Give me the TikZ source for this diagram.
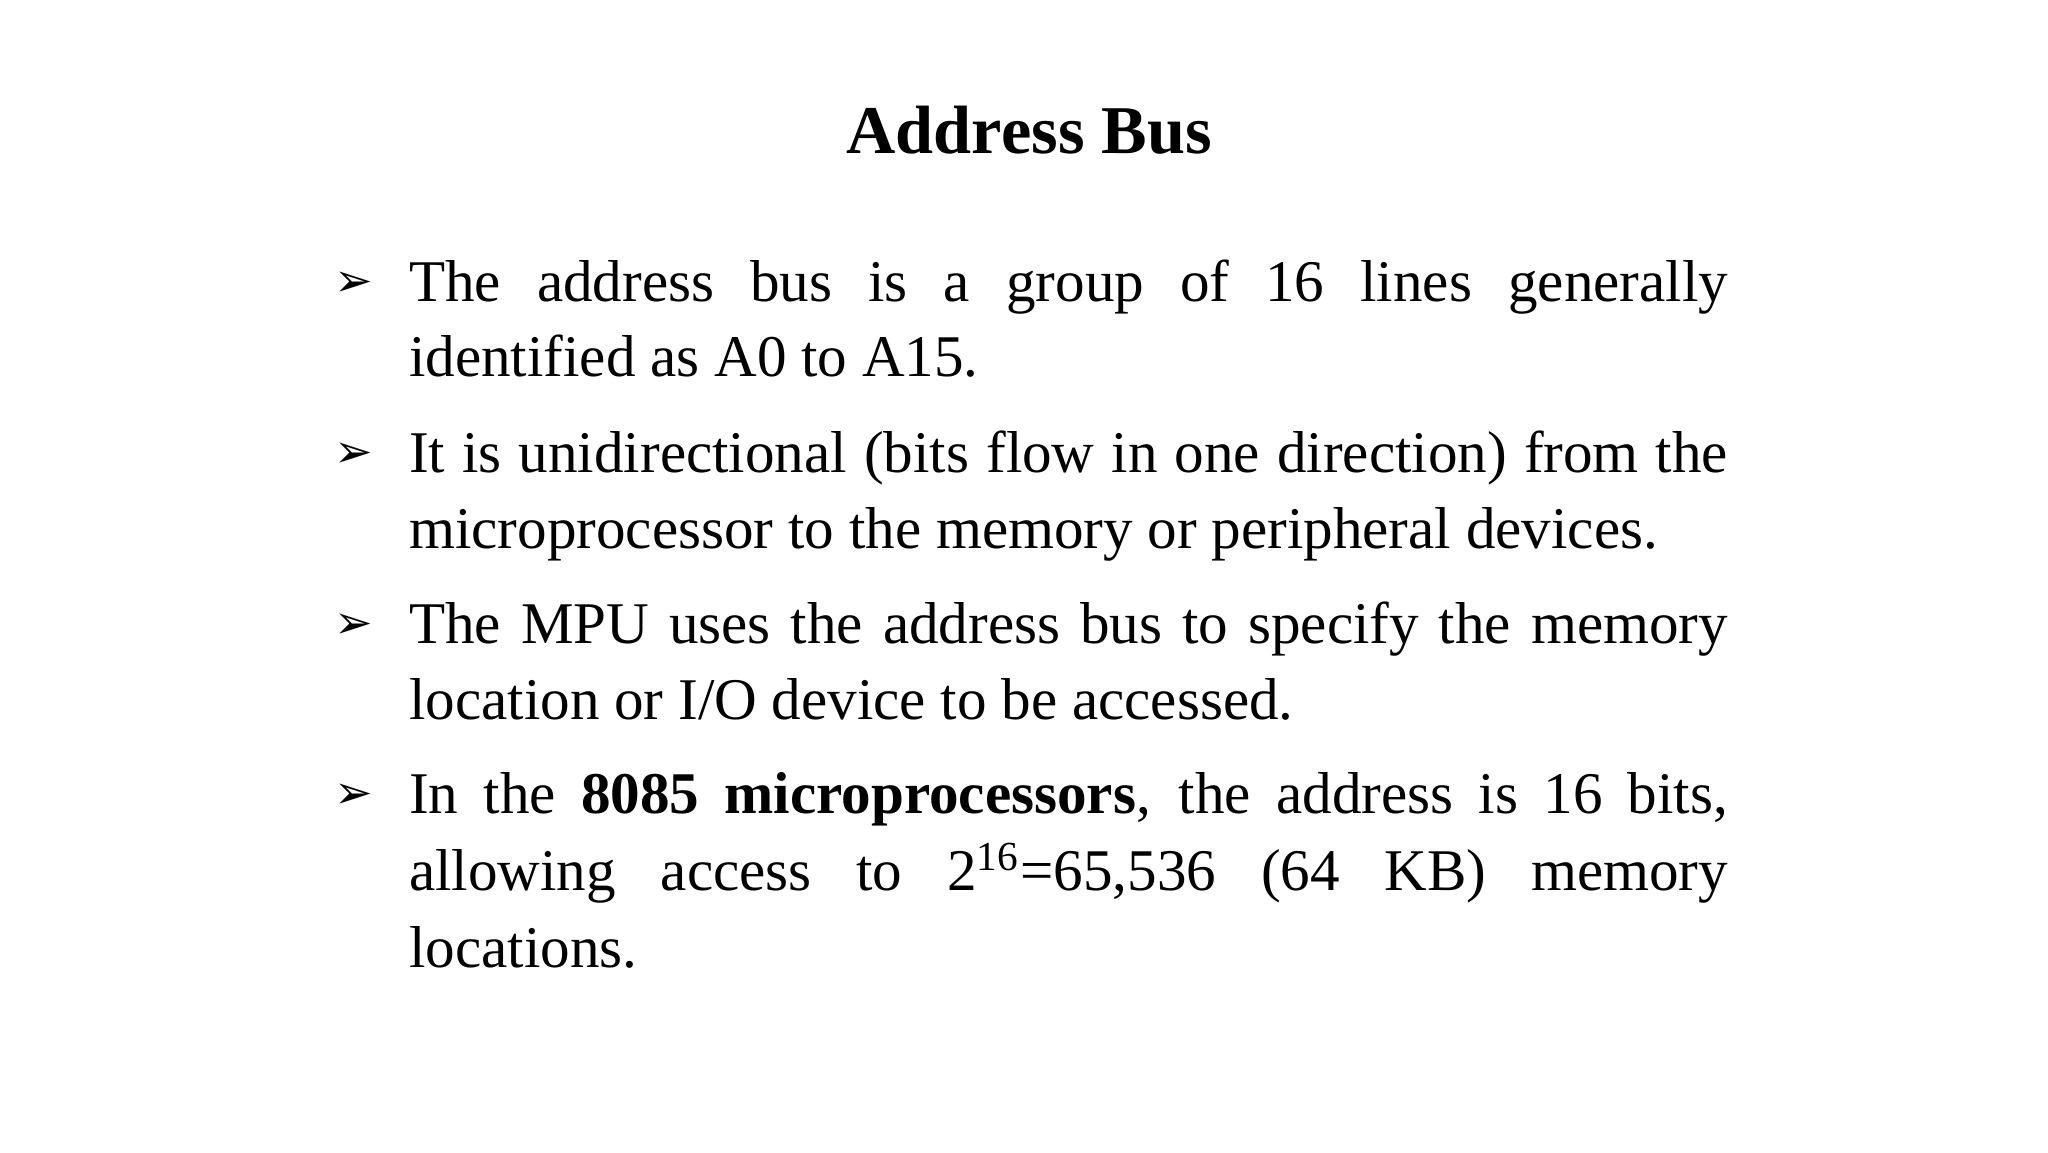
\documentclass[tikz,border=0pt]{standalone}
\usepackage{fontspec}
\setmainfont{Liberation Serif}
\newfontfamily\symfont{DejaVu Sans}
\tikzset{ln/.style={anchor=base west,inner sep=0pt,font=\fontsize{12.8pt}{16pt}\selectfont},
 bul/.style={anchor=base west,inner sep=0pt,font=\fontsize{10pt}{12pt}\symfont}}
\newcommand{\jl}[1]{\makebox[10.04cm][s]{#1}}
\begin{document}
\begin{tikzpicture}[x=0.01cm,y=-0.01cm]
\useasboundingbox[fill=white] (0,0) rectangle (1560,877.5);
\node[anchor=base,inner sep=0pt,font=\fontsize{14.8pt}{18pt}\selectfont\bfseries] (title) at (784,117) {Address Bus};
\node[bul] (b1) at (254,226) {➢};
\node[bul] (b2) at (254,356) {➢};
\node[bul] (b3) at (254,486) {➢};
\node[bul] (b4) at (254,616) {➢};
\node[ln] (l1) at (311,230) {\jl{The address bus is a group of 16 lines generally}};
\node[ln] (l2) at (311,287) {identified as A0 to A15.};
\node[ln] (l3) at (311,360) {\jl{It is unidirectional (bits flow in one direction) from the}};
\node[ln] (l4) at (311,418) {microprocessor to the memory or peripheral devices.};
\node[ln] (l5) at (311,490) {\jl{The MPU uses the address bus to specify the memory}};
\node[ln] (l6) at (311,548) {location or I/O device to be accessed.};
\node[ln] (l7) at (311,620) {\jl{In the \textbf{8085 microprocessors}, the address is 16 bits,}};
\node[ln] (l8) at (311,678) {\jl{allowing access to 2\textsuperscript{16}=65,536 (64 KB) memory}};
\node[ln] (l9) at (311,737) {locations.};
\end{tikzpicture}
\end{document}
